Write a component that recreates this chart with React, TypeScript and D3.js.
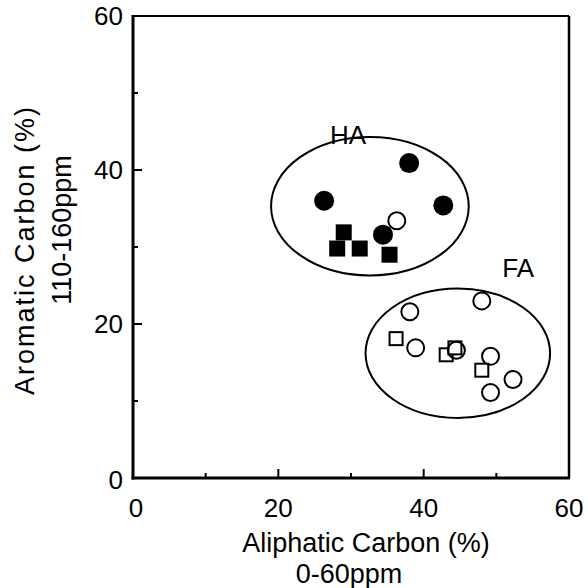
import React from 'react'
import { scaleLinear, range } from 'd3'

// values
const haFilledCirclesX = [26.3, 38.0, 42.7, 34.4]
const haFilledCirclesY = [36.0, 40.9, 35.4, 31.6]
const haFilledSquaresX = [29.0, 28.1, 31.2, 35.3]
const haFilledSquaresY = [31.9, 29.8, 29.8, 29.0]
const openCirclesX = [36.3, 38.1, 48.0, 38.9, 44.5, 49.2, 52.3, 49.2]
const openCirclesY = [33.4, 21.6, 23.0, 16.9, 16.6, 15.8, 12.8, 11.1]
const openSquaresX = [36.2, 43.1, 44.3, 48.0]
const openSquaresY = [18.1, 16.0, 16.9, 14.0]

// groups: label, ellipse centre and radii (data units), label position
const groupNames = ['HA', 'FA']
const groupCx = [32.6, 44.7]
const groupCy = [35.3, 16.2]
const groupRx = [13.6, 12.7]
const groupRy = [9.0, 8.4]
const groupLabelX = [29.6, 53.0]
const groupLabelY = [44.5, 27.3]

const majorTicks = [0, 20, 40, 60]
const minorTicks = [10, 30, 50]

const App = () => {
  const width = 588
  const height = 588
  const x = scaleLinear().domain([0, 60]).range([133, 569])
  const y = scaleLinear().domain([0, 60]).range([478, 16])
  const font = 'Liberation Sans, Arial, sans-serif'

  return (
    <svg width={width} height={height} style={{ position: 'absolute', left: 0, top: 0 }}
      fontFamily={font}>
      <rect width={width} height={height} fill="#fff" />

      {/* frame */}
      <line x1={x(0)} x2={x(60)} y1={y(60)} y2={y(60)} stroke="#000" strokeWidth={2} />
      <line x1={x(60)} x2={x(60)} y1={y(60)} y2={y(0)} stroke="#000" strokeWidth={2.5} />
      <line x1={x(0)} x2={x(0)} y1={y(60) - 1} y2={y(0) + 1.5} stroke="#000" strokeWidth={3} />
      <line x1={x(0) - 1.5} x2={x(60) + 1} y1={y(0)} y2={y(0)} stroke="#000" strokeWidth={3} />

      {/* ticks */}
      {majorTicks.filter(t => t > 0 && t < 60).map(t => (
        <g key={'mt' + t}>
          <line x1={x(t)} x2={x(t)} y1={y(0)} y2={y(0) - 9} stroke="#000" strokeWidth={2} />
          <line x1={x(0)} x2={x(0) + 9} y1={y(t)} y2={y(t)} stroke="#000" strokeWidth={2} />
        </g>
      ))}
      {minorTicks.map(t => (
        <g key={'mn' + t}>
          <line x1={x(t)} x2={x(t)} y1={y(0)} y2={y(0) - 5} stroke="#000" strokeWidth={2} />
          <line x1={x(0)} x2={x(0) + 5} y1={y(t)} y2={y(t)} stroke="#000" strokeWidth={2} />
        </g>
      ))}
      <line x1={x(0)} x2={x(0) + 9} y1={y(60)} y2={y(60)} stroke="#000" strokeWidth={2} />

      {/* tick labels */}
      {majorTicks.map(t => (
        <text key={'xl' + t} x={x(t) + (t === 0 ? 3 : 0)} y={y(0) + 39} textAnchor="middle"
          fontSize={26}>{t}</text>
      ))}
      {majorTicks.map(t => (
        <text key={'yl' + t} x={x(0) - 10} y={y(t) + 9 + (t === 0 ? 2 : 0)} textAnchor="end"
          fontSize={26}>{t}</text>
      ))}

      {/* axis titles */}
      <text x={366} y={552} textAnchor="middle" fontSize={27}>Aliphatic Carbon (%)</text>
      <text x={349} y={583} textAnchor="middle" fontSize={27}>0-60ppm</text>
      <text transform="translate(34,250) rotate(-90)" textAnchor="middle" fontSize={27}
        letterSpacing={2}>Aromatic Carbon  (%)</text>
      <text transform="translate(71,230) rotate(-90)" textAnchor="middle" fontSize={27}>110-160ppm</text>

      {/* group ellipses */}
      {groupNames.map((g, i) => (
        <g key={g}>
          <ellipse cx={x(groupCx[i])} cy={y(groupCy[i])}
            rx={x(groupRx[i]) - x(0)} ry={y(0) - y(groupRy[i])}
            fill="none" stroke="#000" strokeWidth={2} />
          <text x={x(groupLabelX[i])} y={y(groupLabelY[i]) + 9} textAnchor="middle" fontSize={26}>{g}</text>
        </g>
      ))}

      {/* markers */}
      {range(haFilledSquaresX.length).map(i => (
        <rect key={'fs' + i} x={x(haFilledSquaresX[i]) - 8} y={y(haFilledSquaresY[i]) - 8}
          width={16} height={16} fill="#000" />
      ))}
      {range(haFilledCirclesX.length).map(i => (
        <circle key={'fc' + i} cx={x(haFilledCirclesX[i])} cy={y(haFilledCirclesY[i])} r={10} fill="#000" />
      ))}
      {range(openSquaresX.length).map(i => (
        <rect key={'os' + i} x={x(openSquaresX[i]) - 6.5} y={y(openSquaresY[i]) - 6.5}
          width={13} height={13} fill="#fff" stroke="#000" strokeWidth={2} />
      ))}
      {range(openCirclesX.length).map(i => (
        <circle key={'oc' + i} cx={x(openCirclesX[i])} cy={y(openCirclesY[i])} r={8.5}
          fill={i === 0 ? '#fff' : 'none'} stroke="#000" strokeWidth={2} />
      ))}
    </svg>
  )
}

export default App
